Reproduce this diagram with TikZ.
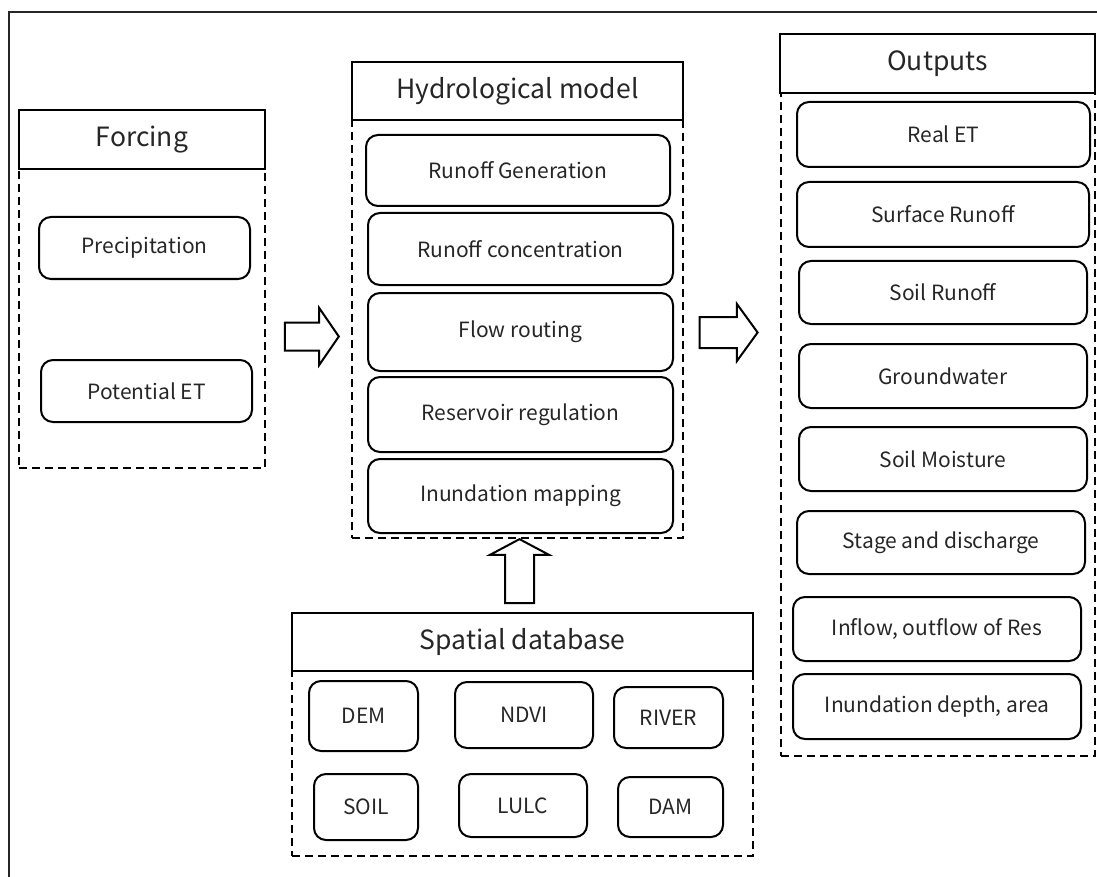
\documentclass[tikz,border=0pt]{standalone}
\usepackage{fontspec}
\setmainfont{Noto Sans CJK SC}
\usetikzlibrary{shapes.arrows}

\begin{document}
\begin{tikzpicture}[x=1pt,y=-1pt,
  every node/.style={text=black!85},
  wh/.style 2 args={minimum width=#1pt,minimum height=#2pt},
  shaft/.style={text height=#1pt,text depth=#1pt},
  dbox/.style={draw,line width=2pt,dash pattern=on 8pt off 5pt,inner sep=0pt},
  head/.style={draw,line width=2pt,fill=white,inner sep=0pt,font=\fontsize{26.5}{32}\selectfont},
  item/.style={draw,line width=2pt,rounded corners=12pt,inner sep=0pt,font=\fontsize{21}{25}\selectfont},
  bigarrow/.style={single arrow,draw,line width=2pt,fill=white,inner sep=0pt}]
\useasboundingbox (0,0) rectangle (1097,877);
\draw[line width=2pt,black!85] (9,877) -- (9,12) -- (1097,12);

% forcing
\node[dbox,wh={246}{299}] (forcebox) at (142,318.5) {};
\node[head,wh={246}{59}] (forcehead) at (142,139.5) {Forcing};
\node[item,wh={211}{62}] (prec) at (144.5,248) {Precipitation};
\node[item,wh={211}{62}] (pet) at (146.5,391) {Potential ET};

% hydrological model
\node[dbox,wh={331}{418}] (hydrobox) at (517.5,329) {};
\node[head,wh={331}{58}] (hydrohead) at (517.5,91) {Hydrological model};
\node[item,wh={304}{71}] (rgen) at (518,170.5) {Runoff Generation};
\node[item,wh={305}{72}] (rconc) at (520.5,249) {Runoff concentration};
\node[item,wh={305}{78}] (frout) at (520.5,332) {Flow routing};
\node[item,wh={305}{75}] (rreg) at (520.5,414.5) {Reservoir regulation};
\node[item,wh={305}{74}] (imap) at (520.5,496) {Inundation mapping};

% outputs
\node[dbox,wh={314}{663}] (outbox) at (938,424.5) {};
\node[head,wh={315}{59}] (outhead) at (937.5,63.5) {Outputs};
\node[item,wh={293}{65}] (ret) at (943.5,134.5) {Real ET};
\node[item,wh={292}{65}] (sro) at (943,214.5) {Surface Runoff};
\node[item,wh={288}{63}] (soro) at (943,292.5) {Soil Runoff};
\node[item,wh={288}{64}] (gw) at (943,376) {Groundwater};
\node[item,wh={288}{64}] (smoist) at (943,459) {Soil Moisture};
\node[item,wh={288}{63}] (sdis) at (941,542.5) {Stage and discharge};
\node[item,wh={288}{64}] (inout) at (937,629) {Inflow, outflow of Res};
\node[item,wh={288}{65}] (idep) at (937,706.5) {Inundation depth, area};

% spatial database
\node[dbox,wh={461}{185}] (spbox) at (522.5,763.5) {};
\node[head,wh={461}{58}] (sphead) at (522.5,642) {Spatial database};
\node[item,wh={109}{70}] (dem) at (363.5,716) {DEM};
\node[item,wh={138}{66}] (ndvi) at (524,715) {NDVI};
\node[item,wh={109}{61},text depth=-8pt] (river) at (668.5,717.5) {RIVER};
\node[item,wh={104}{66}] (soil) at (366,807) {SOIL};
\node[item,wh={128}{63}] (lulc) at (523,805.5) {LULC};
\node[item,wh={105}{60},text depth=-8pt] (dam) at (670.5,807) {DAM};

% block arrows
\node[bigarrow,shaft=13,wh={55}{54},single arrow head extend=14.5pt,single arrow tip angle=111] (arrin) at (307,336.5) {};
\node[bigarrow,shaft=14.5,wh={55}{58},single arrow head extend=13pt,single arrow tip angle=108] (arrout) at (723,332.5) {};
\node[bigarrow,shaft=13.5,wh={57}{64},single arrow head extend=15pt,single arrow tip angle=124,rotate=90] (arrup) at (519.5,575) {};
\end{tikzpicture}
\end{document}
